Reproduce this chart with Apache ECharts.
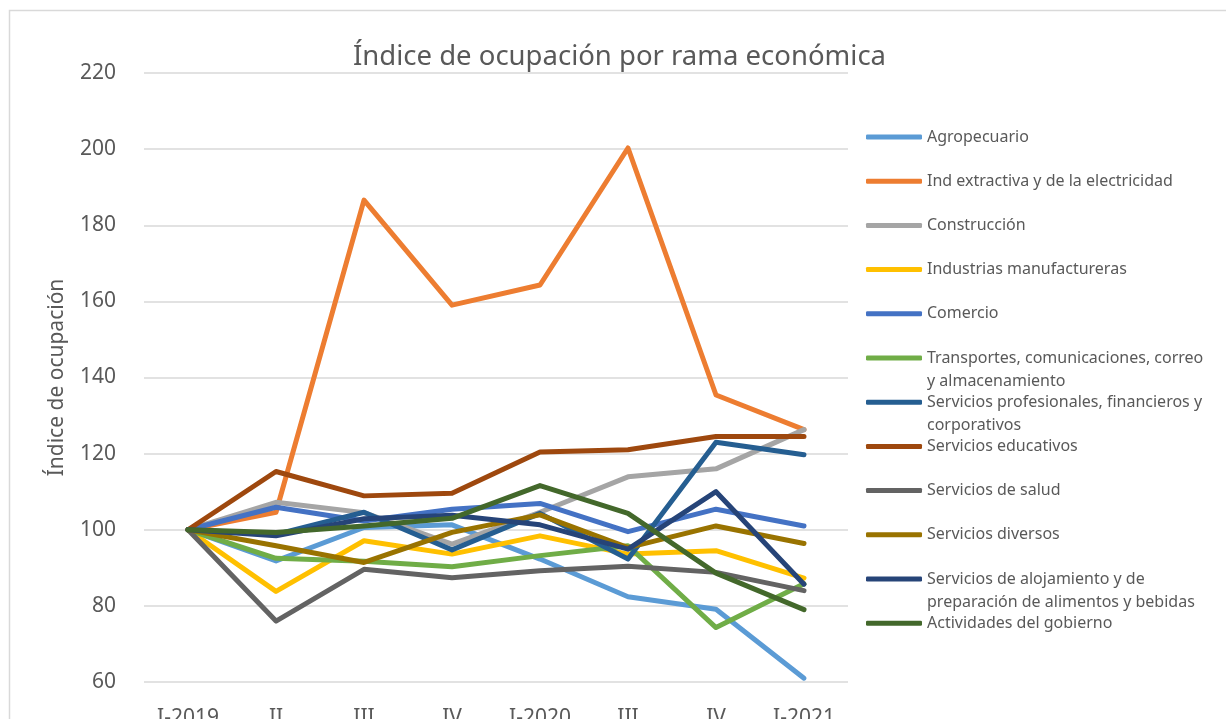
<!DOCTYPE html>
<html>
<head>
<meta charset="utf-8">
<script src="https://cdn.jsdelivr.net/npm/echarts@6/dist/echarts.min.js"></script>
<style>
  html, body { margin: 0; padding: 0; background: #fff; }
  #chart { width: 1226px; height: 719px; }
</style>
</head>
<body>
<div id="chart"></div>
<script>
const quarters = ['I-2019', 'II', 'III', 'IV', 'I-2020', 'III', 'IV', 'I-2021']
const yTicks = { min: 60, max: 220, step: 20 }

const agropecuario = [100, 91.8, 100.6, 101.3, 92.3, 82.4, 79.1, 61]
const indExtractiva = [100, 104.6, 186.6, 159, 164.3, 200.3, 135.4, 126.3]
const construccion = [100, 107.2, 104.5, 96.2, 104.6, 113.9, 116, 126.3]
const manufactureras = [100, 83.8, 97.1, 93.6, 98.4, 93.6, 94.5, 87.3]
const comercio = [100, 105.9, 102.3, 105.4, 106.9, 99.5, 105.4, 101]
const transportes = [100, 92.5, 91.7, 90.3, 93.2, 95.8, 74.3, 85.8]
const profesionales = [100, 98.8, 104.6, 94.7, 104.3, 92.3, 123, 119.7]
const educativos = [100, 115.3, 108.9, 109.6, 120.4, 121, 124.5, 124.5]
const salud = [100, 76, 89.6, 87.4, 89.2, 90.4, 88.8, 84]
const diversos = [100, 95.8, 91.4, 99.3, 103.9, 95.3, 101, 96.4]
const alojamiento = [100, 98.4, 102.9, 103.8, 101.3, 94.9, 110, 85.7]
const gobierno = [100, 99.3, 101, 103, 111.6, 104.3, 88.6, 79]

const seriesList = [
  { name: 'Agropecuario', data: agropecuario, color: '#5B9BD5' },
  { name: 'Ind extractiva y de la electricidad', data: indExtractiva, color: '#ED7D31' },
  { name: 'Construcción', data: construccion, color: '#A5A5A5' },
  { name: 'Industrias manufactureras', data: manufactureras, color: '#FFC000' },
  { name: 'Comercio', data: comercio, color: '#4472C4' },
  { name: 'Transportes, comunicaciones, correo y almacenamiento', data: transportes, color: '#70AD47',
    label: 'Transportes, comunicaciones, correo\ny almacenamiento' },
  { name: 'Servicios profesionales, financieros y corporativos', data: profesionales, color: '#255E91',
    label: 'Servicios profesionales, financieros y\ncorporativos' },
  { name: 'Servicios educativos', data: educativos, color: '#9E480E' },
  { name: 'Servicios de salud', data: salud, color: '#636363' },
  { name: 'Servicios diversos', data: diversos, color: '#997300' },
  { name: 'Servicios de alojamiento y de preparación de alimentos y bebidas', data: alojamiento, color: '#264478',
    label: 'Servicios de alojamiento y de\npreparación de alimentos y bebidas' },
  { name: 'Actividades del gobierno', data: gobierno, color: '#43682B' },
]

const FONT = 'Noto Sans, sans-serif'
const TEXT = '#595959'

// one legend per entry so that wrapped names keep the even spacing;
// wrapped names get an empty first line so the first line sits on the icon
const legends = seriesList.map((s, i) => {
  const center = 137 + i * 44.2
  const twoLines = !!s.label
  return {
    data: [s.name],
    orient: 'vertical',
    left: 866,
    top: center - (twoLines ? 34.5 : 11.5),
    padding: 0,
    icon: 'roundRect',
    itemWidth: 56,
    itemHeight: 5,
    formatter: () => (twoLines ? '\n' + s.label : s.name),
    textStyle: {
      color: TEXT,
      fontFamily: FONT,
      fontSize: 16,
      lineHeight: 23,
    },
  }
})

const chart = echarts.init(document.getElementById('chart'))

chart.setOption({
  backgroundColor: '#fff',
  animation: false,
  title: {
    text: 'Índice de ocupación por rama económica',
    left: 348,
    top: 38,
    textStyle: { color: TEXT, fontFamily: FONT, fontSize: 27.5, fontWeight: 'normal' },
  },
  graphic: [{
    type: 'rect',
    left: 7,
    top: 8,
    shape: { width: 1260, height: 760 },
    style: { fill: 'none', stroke: '#D9D9D9', lineWidth: 1.5 },
    silent: true,
  }],
  legend: legends,
  grid: { left: 144, right: 378, top: 73, bottom: 37, outerBoundsMode: 'none' },
  xAxis: {
    type: 'category',
    data: quarters,
    axisLine: { show: false },
    axisTick: { show: false },
    axisLabel: { color: TEXT, fontFamily: FONT, fontSize: 21, margin: 26 },
  },
  yAxis: {
    type: 'value',
    min: yTicks.min,
    max: yTicks.max,
    interval: yTicks.step,
    name: 'Índice de ocupación',
    nameLocation: 'middle',
    nameGap: 76,
    nameTextStyle: { color: TEXT, fontFamily: FONT, fontSize: 21 },
    axisLabel: { color: TEXT, fontFamily: FONT, fontSize: 21, margin: 28, padding: [10, 0, 0, 0] },
    splitLine: { lineStyle: { color: '#D9D9D9', width: 1.5 } },
  },
  series: seriesList.map(s => ({
    name: s.name,
    type: 'line',
    data: s.data,
    symbol: 'none',
    color: s.color,
    lineStyle: { width: 5, color: s.color, cap: 'round', join: 'round' },
  })),
})
</script>
</body>
</html>
